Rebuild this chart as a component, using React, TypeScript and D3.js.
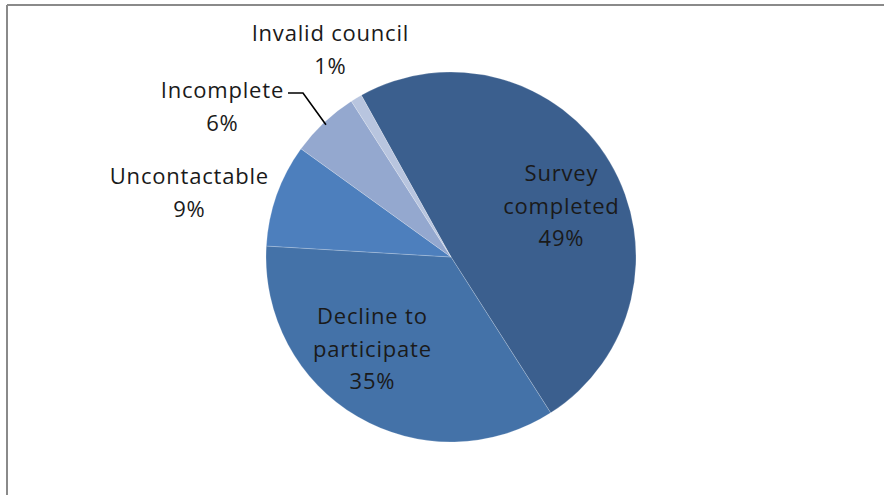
import React from "react";
import * as d3 from "d3";

const categories = ["Survey completed", "Decline to participate", "Uncontactable", "Incomplete", "Invalid council"];
const values = [49, 35, 9, 6, 1];
const percentLabels = ["49%", "35%", "9%", "6%", "1%"];
const colors = ["#3B5F8E", "#4472A8", "#4D7FBD", "#94A8CF", "#B8C5DF"];

const W = 884;
const H = 495;
const CX = 451;
const CY = 257;
const R = 185;
const START = (-29 * Math.PI) / 180;

// label layout (lines of text, anchor center, first baseline)
const labelLayout: { lines: string[]; x: number; y: number }[] = [
  { lines: ["Survey", "completed"], x: 561, y: 181 },
  { lines: ["Decline to", "participate"], x: 372, y: 324 },
  { lines: ["Uncontactable"], x: 189, y: 184 },
  { lines: ["Incomplete"], x: 222, y: 98 },
  { lines: ["Invalid council"], x: 330, y: 41 },
];

export default function App() {
  const pie = d3
    .pie<number>()
    .sort(null)
    .value((d) => d)
    .startAngle(START)
    .endAngle(START + 2 * Math.PI);
  const arcs = pie(values);
  const arc = d3.arc<d3.PieArcDatum<number>>().innerRadius(0).outerRadius(R);
  const lineH = 32.5;

  // leader line for Incomplete
  const inc = arcs[3];
  const mid = (inc.startAngle + inc.endAngle) / 2;
  const ex = CX + (R - 3) * Math.sin(mid);
  const ey = CY - (R - 3) * Math.cos(mid);

  return (
    <svg
      width={W}
      height={H}
      style={{ position: "absolute", left: 0, top: 0, background: "#fff" }}
      fontFamily="'Open Sans', sans-serif"
    >
      <rect x={0} y={0} width={W} height={H} fill="#fff" />
      <line x1={7} y1={5} x2={W} y2={5} stroke="#8a8a8a" strokeWidth={2} />
      <line x1={7} y1={5} x2={7} y2={H} stroke="#8a8a8a" strokeWidth={2} />
      <g transform={`translate(${CX},${CY})`}>
        {arcs.map((a, i) => (
          <path
            key={categories[i]}
            d={arc(a) || ""}
            fill={colors[i]}
            stroke="#ffffff"
            strokeOpacity={0.25}
            strokeWidth={0.8}
          />
        ))}
      </g>
      <polyline
        points={`288,93 303,93 ${ex},${ey}`}
        fill="none"
        stroke="#000"
        strokeWidth={1.6}
      />
      {labelLayout.map((l, i) => (
        <text key={i} textAnchor="middle" fontSize={22} letterSpacing={0.8} fill="#1a1a1a">
          {[...l.lines, percentLabels[i]].map((t, j) => (
            <tspan key={j} x={l.x + 0.4} y={l.y + j * lineH}>
              {t}
            </tspan>
          ))}
        </text>
      ))}
    </svg>
  );
}
